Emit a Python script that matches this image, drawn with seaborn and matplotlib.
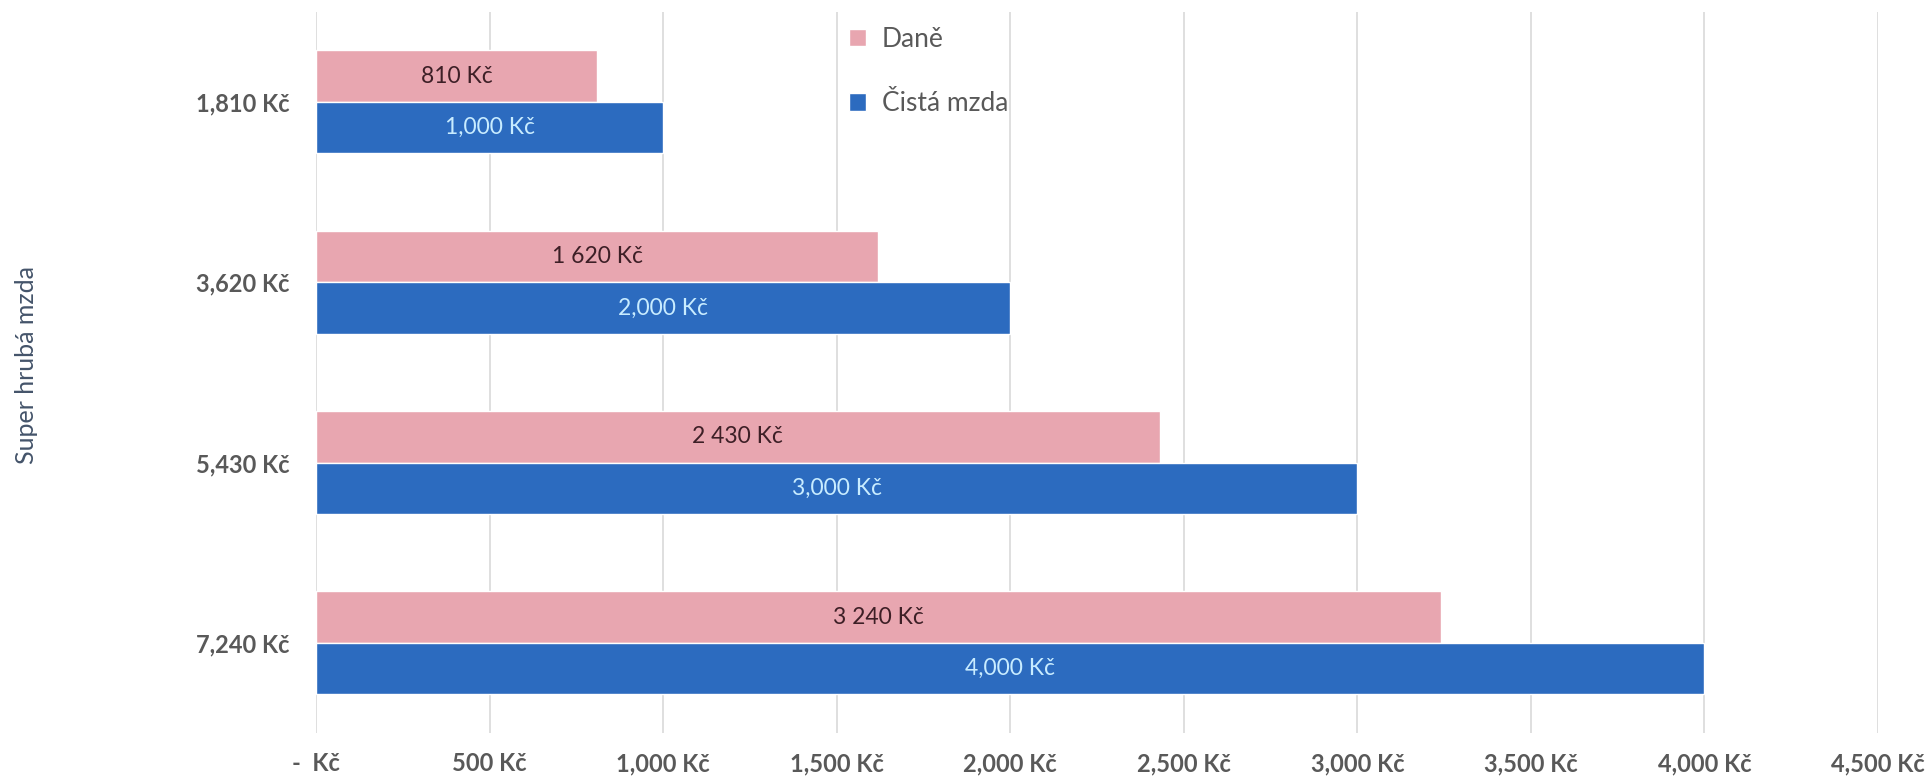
import matplotlib
matplotlib.use("Agg")
import matplotlib.pyplot as plt
import pandas as pd
import seaborn as sns

# data
categories = ["1,810 Kč", "3,620 Kč", "5,430 Kč", "7,240 Kč"]
dane = [810, 1620, 2430, 3240]
cista = [1000, 2000, 3000, 4000]
dane_labels = ["810 Kč", "1 620 Kč", "2 430 Kč", "3 240 Kč"]
cista_labels = ["1,000 Kč", "2,000 Kč", "3,000 Kč", "4,000 Kč"]
xticks = [0, 500, 1000, 1500, 2000, 2500, 3000, 3500, 4000, 4500]
xtick_labels = ["-  Kč", "500 Kč", "1,000 Kč", "1,500 Kč", "2,000 Kč",
                "2,500 Kč", "3,000 Kč", "3,500 Kč", "4,000 Kč", "4,500 Kč"]
series = ["Daně", "Čistá mzda"]

sns.set_style("white")
plt.rcParams['font.family'] = ['Lato', 'DejaVu Sans']

df = pd.DataFrame({
    "Super hrubá mzda": categories * 2,
    "value": dane + cista,
    "serie": [series[0]] * 4 + [series[1]] * 4,
})

fig = plt.figure(figsize=(19.27, 7.79), dpi=100)
ax = fig.add_axes([0.164, 0.059, 0.8106, 0.926])

sns.barplot(data=df, x="value", y="Super hrubá mzda", hue="serie",
            hue_order=series, palette=["#E8A6B0", "#2C6BBF"],
            width=0.57, saturation=1, ax=ax, zorder=2)

ax.bar_label(ax.containers[0], labels=dane_labels, label_type="center",
             fontsize=16.5, color="#3d1f26")
ax.bar_label(ax.containers[1], labels=cista_labels, label_type="center",
             fontsize=16.5, color="#c8ecff")

ax.set_xlim(0, 4500)
ax.set_xticks(xticks)
ax.set_xticklabels(xtick_labels, fontsize=17, fontweight="bold", color="#595959")
ax.tick_params(axis="y", labelsize=17, labelcolor="#595959", length=0, pad=19)
ax.tick_params(axis="x", length=0, pad=14)
for lbl in ax.get_yticklabels():
    lbl.set_fontweight("bold")

ax.xaxis.grid(True, color="#d9d9d9", linewidth=1.2, zorder=0)
ax.yaxis.grid(False)
for s in ax.spines.values():
    s.set_visible(False)

ax.set_xlabel("")
ax.set_ylabel("Super hrubá mzda", fontsize=18, color="#44546A")
ax.yaxis.set_label_coords(-0.178, 0.51)

ax.legend(loc="upper left", bbox_to_anchor=(0.326, 1.012), frameon=False,
          fontsize=19, handlelength=0.65, handleheight=0.65, handletextpad=0.6,
          labelspacing=1.5, labelcolor="#595959")

fig.savefig("out.png", dpi=100)
